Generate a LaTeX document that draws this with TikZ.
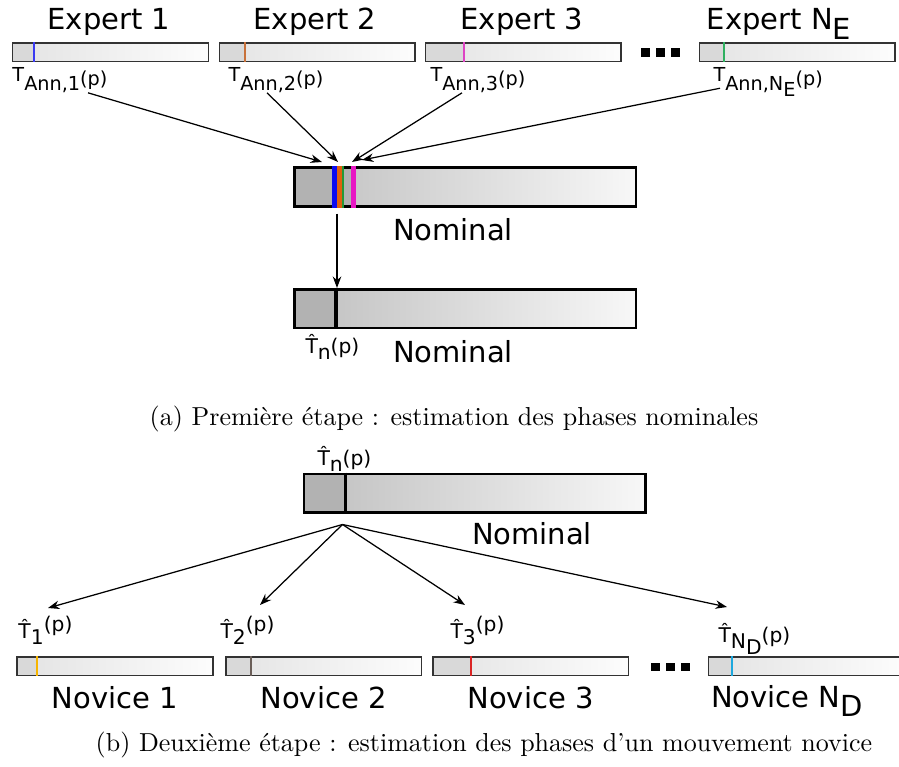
\documentclass[tikz,border=0pt]{standalone}
\usepackage{fontspec}
\setsansfont{DejaVu Sans}
\usepackage{tikz}
\usetikzlibrary{shapes,arrows,arrows.meta,positioning}

\definecolor{annblue}{HTML}{3A3AF2}
\definecolor{annorange}{HTML}{C8713A}
\definecolor{annmagenta}{HTML}{DD44C4}
\definecolor{anngreen}{HTML}{2FB060}
\definecolor{nomblue}{HTML}{0A0AF0}
\definecolor{nomorange}{HTML}{E0600E}
\definecolor{nomgreen}{HTML}{239A36}
\definecolor{nommagenta}{HTML}{E817C4}
\definecolor{novyellow}{HTML}{F7B500}
\definecolor{novgray}{HTML}{6A5E58}
\definecolor{novred}{HTML}{DA2424}
\definecolor{novcyan}{HTML}{1DA8DE}

\newcommand{\subtxt}[1]{\raisebox{-0.32em}{#1}}
\newcommand{\suptxt}[1]{\raisebox{0.3em}{#1}}
\newcommand{\annlbl}[1]{T\raisebox{-0.42em}{Ann,#1}\raisebox{-0.18em}{(p)}}

\begin{document}
\begin{tikzpicture}[
    x=0.4pt, y=-0.4pt,
    bigtxt/.style={font=\sffamily\fontsize{11.6}{14}\selectfont, inner sep=0pt},
    anntxt/.style={font=\sffamily\fontsize{7.7}{9}\selectfont, inner sep=0pt},
    esttxt/.style={font=\sffamily\fontsize{8.1}{10}\selectfont, inner sep=0pt},
    captxt/.style={font=\fontsize{10.4}{12}\selectfont, inner sep=0pt},
    expbar/.style={rectangle, draw=black!80, line width=0.6pt, minimum width=78.2pt, minimum height=7.4pt, inner sep=0pt,
        left color=black!11, right color=black!1,
        path picture={\fill[black!15] (path picture bounding box.south west) rectangle ([xshift=#1*0.4pt]path picture bounding box.north west);}},
    nombar/.style={rectangle, draw, line width=1pt, minimum width=136.6pt, minimum height=15.4pt, inner sep=0pt,
        left color=black!25, right color=black!3,
        path picture={\fill[black!30] (path picture bounding box.south west) rectangle ([xshift=#1*0.4pt]path picture bounding box.north west);}},
    arrow/.style={->, >={Stealth[length=4.6pt, width=3.4pt]}, line width=0.5pt}
]
    \useasboundingbox (0,0) rectangle (899,766);

    % (a) expert annotations
    \foreach \i/\x/\off/\col in {1/110.5/22/annblue, 2/317/26/annorange, 3/523/39/annmagenta, 4/797/25/anngreen}{
        \node[expbar=\off] (exp\i) at (\x,52.5) {};
        \draw[\col, line width=0.8pt] ([xshift=\off*0.4pt]exp\i.north west) -- ([xshift=\off*0.4pt]exp\i.south west);
    }
    \node[bigtxt, anchor=base] (exp1lbl) at (109,30) {Expert 1};
    \node[bigtxt, anchor=base] (exp2lbl) at (315,30) {Expert 2};
    \node[bigtxt, anchor=base] (exp3lbl) at (522,30) {Expert 3};
    \node[bigtxt, anchor=base] (exp4lbl) at (779,30) {Expert N\subtxt{E}};
    \foreach \x in {645,660,675}
        \fill (\x-4.5,48.5) rectangle (\x+4.5,57.5);

    \node[anntxt, anchor=base west] (ann1) at (12,82) {\annlbl{1}};
    \node[anntxt, anchor=base west] (ann2) at (228,82) {\annlbl{2}};
    \node[anntxt, anchor=base west] (ann3) at (430,82) {\annlbl{3}};
    \node[anntxt, anchor=base west] (ann4) at (713,82) {\annlbl{N\subtxt{E}}};

    \node[nombar=60] (nom1) at (465,187) {};
    \foreach \off/\col/\w in {41/nomblue/2pt, 46.5/nomorange/1.7pt, 50/nomgreen/1pt, 60.5/nommagenta/1.7pt}
        \draw[\col, line width=\w] ([xshift=\off*0.4pt]nom1.north west) -- ([xshift=\off*0.4pt]nom1.south west);
    \node[bigtxt, anchor=base] (nom1lbl) at (453,240) {Nominal};

    \coordinate (tip1) at (322,162);
    \coordinate (tip2) at (338,162);
    \coordinate (tip3) at (352,162);
    \coordinate (tip4) at (362,160);
    \draw[arrow] ([xshift=30.4pt]ann1.south west) -- (tip1);
    \draw[arrow] ([xshift=15.6pt]ann2.south west) -- (tip2);
    \draw[arrow] ([xshift=12.8pt]ann3.south west) -- (tip3);
    \draw[arrow] ([xshift=2.8pt, yshift=3.4pt]ann4.south west) -- (tip4);

    \node[nombar=43] (nom2) at (465,308.5) {};
    \draw[line width=1.4pt] ([xshift=43*0.4pt]nom2.north west) -- ([xshift=43*0.4pt]nom2.south west);
    \draw[arrow] ([xshift=17.6pt, yshift=-2.4pt]nom1.south west) -- ([xshift=17.6pt]nom2.north west);
    \node[esttxt, anchor=base west] (tn1) at (305,353) {\^{T}\subtxt{n}(p)};
    \node[bigtxt, anchor=base] (nom2lbl) at (453,362) {Nominal};

    \node[captxt, anchor=base] (capa) at (454,425) {(a) Première étape : estimation des phases nominales};

    % (b) novice movements
    \node[nombar=43] (nom3) at (474.5,493) {};
    \draw[line width=1.4pt] ([xshift=43*0.4pt]nom3.north west) -- ([xshift=43*0.4pt]nom3.south west);
    \node[esttxt, anchor=base west] (tn2) at (317,465) {\^{T}\subtxt{n}(p)};
    \node[bigtxt, anchor=base] (nom3lbl) at (532,544) {Nominal};

    \foreach \i/\x/\off/\col in {1/115/21/novyellow, 2/323.5/26/novgray, 3/530.5/39/novred, 4/806/24/novcyan}{
        \node[expbar=\off] (nov\i) at (\x,666) {};
        \draw[\col, line width=0.8pt] ([xshift=\off*0.4pt]nov\i.north west) -- ([xshift=\off*0.4pt]nov\i.south west);
    }
    \foreach \x in {655,670,685}
        \fill (\x-4.5,663) rectangle (\x+4.5,671);
    \node[bigtxt, below=4pt of nov1] (nov1lbl) {Novice 1};
    \node[bigtxt, below=4pt of nov2] (nov2lbl) {Novice 2};
    \node[bigtxt, below=4pt of nov3] (nov3lbl) {Novice 3};
    \node[bigtxt, anchor=base] (nov4lbl) at (787,707) {Novice N\subtxt{D}};

    \node[esttxt, anchor=base west] (nt1) at (18,638) {\^{T}\subtxt{1}\suptxt{(p)}};
    \node[esttxt, anchor=base west] (nt2) at (220,638) {\^{T}\subtxt{2}\suptxt{(p)}};
    \node[esttxt, anchor=base west] (nt3) at (450,638) {\^{T}\subtxt{3}\suptxt{(p)}};
    \node[esttxt, anchor=base west] (nt4) at (718,642) {\^{T}\subtxt{N\subtxt{D}}(p)};

    \coordinate (nt1tip) at (48,608);
    \coordinate (nt2tip) at (260,605);
    \coordinate (nt3tip) at (465,605);
    \coordinate (nt4tip) at (727,607);
    \foreach \j in {1,2,3,4}
        \draw[arrow] ([xshift=16pt, yshift=-4.4pt]nom3.south west) -- (nt\j tip);

    \node[captxt, anchor=base] (capb) at (484,751) {(b) Deuxième étape : estimation des phases d’un mouvement novice};
\end{tikzpicture}
\end{document}
